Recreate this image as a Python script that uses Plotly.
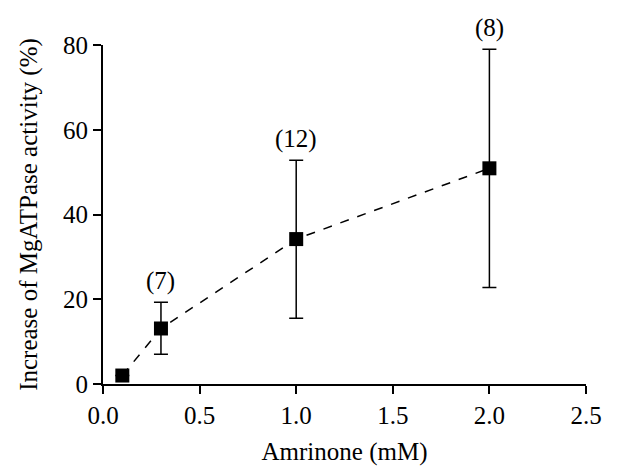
import plotly.graph_objects as go

# Data
amrinone_mM = [0.1, 0.3, 1.0, 2.0]
increase_pct = [2.0, 13.1, 34.2, 50.9]
err_upper = [0.0, 6.2, 18.6, 28.1]
err_lower = [0.0, 6.1, 18.7, 28.1]
n_labels = ["", "(7)", "(12)", "(8)"]

x_ticks = [0.0, 0.5, 1.0, 1.5, 2.0, 2.5]
x_ticklabels = ["0.0", "0.5", "1.0", "1.5", "2.0", "2.5"]
y_ticks = [0, 20, 40, 60, 80]

FONT = "Liberation Serif"
FS = 25

fig = go.Figure()
fig.add_trace(go.Scatter(
    x=amrinone_mM, y=increase_pct,
    mode="lines+markers",
    line=dict(color="black", width=1.5, dash="dash"),
    marker=dict(symbol="square", size=14, color="black"),
    error_y=dict(type="data", symmetric=False, array=err_upper, arrayminus=err_lower,
                 color="black", thickness=1.5, width=7),
    cliponaxis=False,
    showlegend=False,
))

for xv, yv, up, lab in zip(amrinone_mM, increase_pct, err_upper, n_labels):
    if lab:
        fig.add_annotation(x=xv, y=yv + up, text=lab, showarrow=False,
                           xanchor="center", yanchor="bottom", yshift=5,
                           font=dict(family=FONT, size=FS, color="black"))

fig.update_layout(
    width=625, height=467,
    margin=dict(l=103, r=39, t=45, b=83),
    paper_bgcolor="white", plot_bgcolor="white",
    font=dict(family=FONT, size=FS, color="black"),
    xaxis=dict(
        range=[0, 2.5], tickvals=x_ticks, ticktext=x_ticklabels,
        showline=True, linecolor="black", linewidth=2,
        ticks="outside", ticklen=8, tickwidth=2, tickcolor="black",
        showgrid=False, zeroline=False, automargin=False,
        title=dict(text="Amrinone (mM)", standoff=14, font=dict(size=FS)),
        tickfont=dict(size=FS),
    ),
    yaxis=dict(
        range=[0, 80], tickvals=y_ticks,
        showline=True, linecolor="black", linewidth=2,
        ticks="outside", ticklen=8, tickwidth=2, tickcolor="black",
        showgrid=False, zeroline=False, automargin=False,
        title=dict(text="Increase of MgATPase activity (%)", standoff=18, font=dict(size=FS)),
        tickfont=dict(size=FS),
    ),
)

fig.write_html("out.html")
